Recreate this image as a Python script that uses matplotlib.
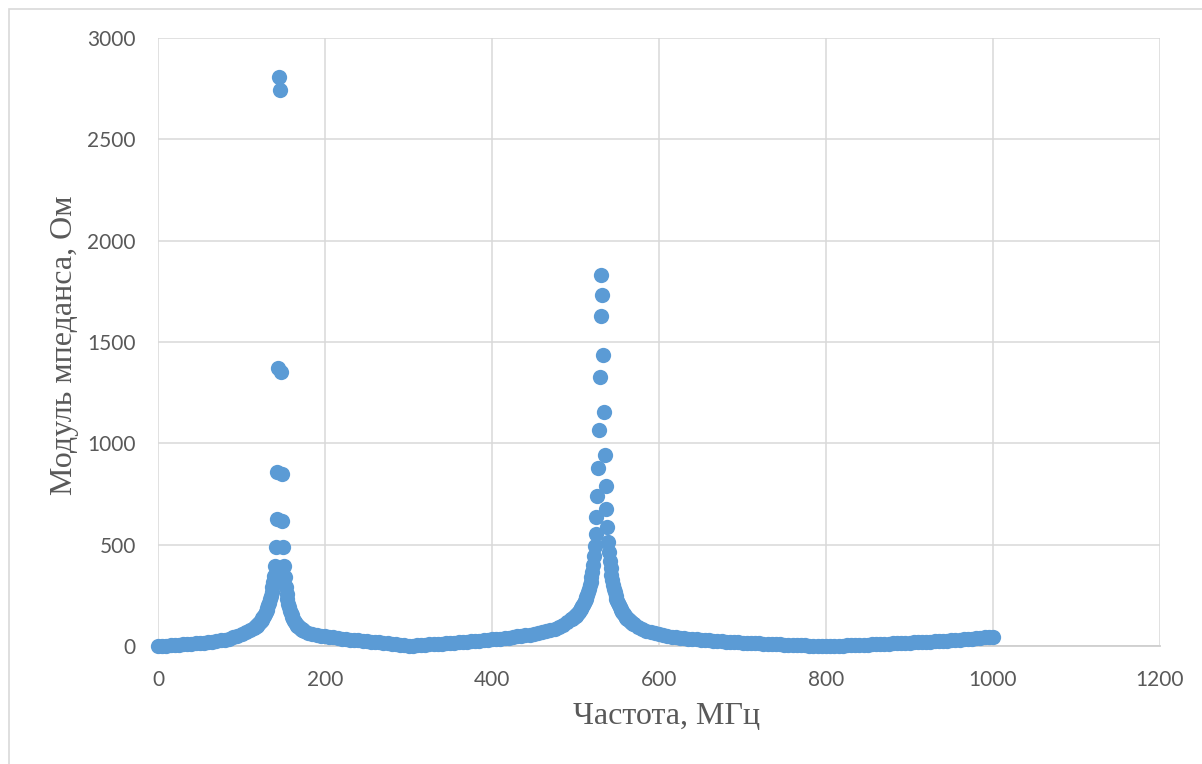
import numpy as np
import matplotlib
matplotlib.use("Agg")
import matplotlib.pyplot as plt
from matplotlib.patches import Rectangle

# frequency grid, MHz (sampled every 1 MHz near the resonances, coarser elsewhere)
f_low = np.arange(0, 116, 5)
f_peak1 = np.arange(116, 176, 1)
f_mid = np.arange(180, 496, 5)
f_peak2 = np.arange(496, 571, 1)
f_high = np.arange(575, 1001, 5)

# impedance magnitude, Ohm
z_low = [0, 1, 2, 4, 5, 7, 8, 10, 11, 13, 15, 17, 19, 22, 25, 28, 32, 37, 42, 49,
         57, 67, 80, 90]
z_peak1 = [93, 97, 101, 105, 109, 114, 119, 124, 130, 136, 143, 150, 158, 167, 177,
           188, 200, 214, 230, 248, 268, 290, 315, 345, 397, 488, 625, 860, 1374, 2810,
           2745, 1350, 848, 619, 488, 397, 338, 293, 258, 231, 209, 190, 175, 162, 151,
           141, 132, 124, 117, 111, 106, 101, 97, 93, 89, 86, 83, 80, 78, 75]
z_mid = [66, 60, 55, 51, 48, 45, 42, 39, 37, 34, 32, 30, 28, 26, 24, 22, 20, 18, 15,
         13, 11, 8, 6, 3, 1, 2, 3, 5, 6, 8, 9, 11, 12, 14, 15, 17, 18, 20, 21, 23, 25,
         27, 29, 31, 33, 35, 37, 39, 41, 44, 47, 50, 53, 56, 60, 64, 68, 73, 79, 86, 94,
         103, 116, 131]
z_peak2 = [135, 138, 142, 146, 150, 155, 160, 165, 170, 176, 182, 189, 196, 204, 212,
           221, 231, 242, 254, 267, 282, 299, 318, 340, 366, 400, 445, 495, 552, 635,
           738, 878, 1066, 1326, 1630, 1829, 1730, 1437, 1154, 944, 789, 674, 585, 515,
           465, 421, 384, 352, 325, 302, 282, 264, 248, 234, 222, 211, 201, 192, 184,
           176, 169, 162, 156, 150, 145, 140, 135, 131, 127, 123, 119, 116, 113, 110, 107]
z_high = [94, 83, 75, 68, 62, 57, 53, 49, 46, 43, 41, 38, 36, 34, 33, 31, 29, 28, 26,
          25, 23, 22, 21, 19, 18, 17, 16, 15, 14, 13, 12, 11, 10, 9, 8, 7, 6, 5, 5, 4,
          3, 2, 2, 1, 1, 0, 0, 1, 2, 2, 3, 4, 5, 5, 6, 7, 8, 9, 10, 11, 12, 13, 14, 15,
          16, 17, 18, 19, 20, 21, 22, 23, 24, 26, 27, 28, 30, 31, 33, 35, 36, 38, 40,
          42, 44, 46]

freq = np.concatenate([f_low, f_peak1, f_mid, f_peak2, f_high])
zmod = np.concatenate([z_low, z_peak1, z_mid, z_peak2, z_high])

x_ticks = [0, 200, 400, 600, 800, 1000, 1200]
y_ticks = [0, 500, 1000, 1500, 2000, 2500, 3000]

fig = plt.figure(figsize=(12.02, 7.64), dpi=100)
ax = fig.add_axes([158 / 1202, 1 - 646 / 764, 1002 / 1202, 608 / 764])

# outer chart border (Excel chart area)
fig.patches.append(Rectangle((9 / 1202, -0.1), 1.2, 1.1 - 9 / 764, transform=fig.transFigure,
                             fill=False, edgecolor='#d9d9d9', lw=1.2))

# markers are not clipped at the axis, like in Excel
ax.plot(freq, zmod, 'o', color='#5b9bd5', markersize=11, markeredgewidth=0, zorder=3,
        clip_on=False)

ax.set_xlim(0, 1200)
ax.set_ylim(0, 3000)
ax.set_xticks(x_ticks)
ax.set_yticks(y_ticks)
ax.grid(True, color='#d9d9d9', lw=1.1)
ax.set_axisbelow(True)
for s in ['top', 'right', 'left']:
    ax.spines[s].set_visible(False)
ax.spines['bottom'].set_color('#cfcfcf')
ax.spines['bottom'].set_linewidth(1.3)
ax.tick_params(length=0, labelsize=15, labelcolor='#595959')
ax.tick_params(axis='y', pad=16)
ax.tick_params(axis='x', pad=17)
for lab in ax.get_xticklabels() + ax.get_yticklabels():
    lab.set_fontfamily('Lato')

ax.set_xlabel('Частота, МГц', fontsize=23, family='Liberation Serif', color='#595959')
ax.set_ylabel('Модуль мпеданса, Ом', fontsize=23, family='Liberation Serif', color='#595959')
ax.xaxis.set_label_coords((667 - 158) / 1002, (646 - 716) / 608)
ax.yaxis.set_label_coords((65 - 158) / 1002, (646 - 345) / 608)
ax.xaxis.label.set_va('center')
ax.yaxis.label.set_va('center')

fig.savefig('out.png', dpi=100)
